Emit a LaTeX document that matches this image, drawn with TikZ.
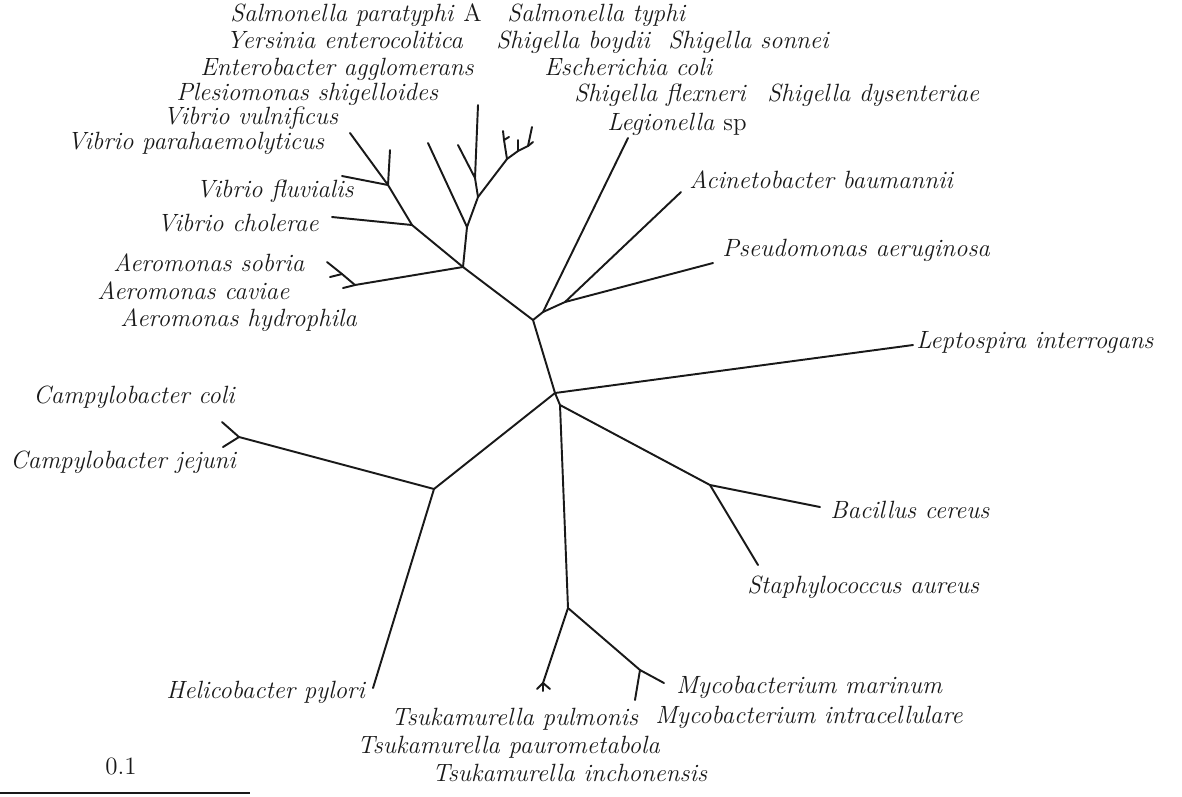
\documentclass[tikz,border=0pt]{standalone}
\usepackage{tikz}
\usetikzlibrary{positioning}
\definecolor{treeink}{RGB}{25,25,25}

\begin{document}
\begin{tikzpicture}[x=0.02cm,y=-0.02cm,font=\fontsize{14.2}{17}\selectfont,
  branch/.style={treeink,line width=1.1pt,line cap=round},
  taxon/.style={anchor=mid west,inner sep=0pt,treeink,font=\fontsize{14.2}{17}\selectfont\itshape}]
  \useasboundingbox (0,0) rectangle (1182,796);
  % ---- inner nodes of the tree ----
  \coordinate (c1) at (533,320);   \coordinate (leg) at (543,312);
  \coordinate (pse) at (565,302);  \coordinate (ent) at (463,267);
  \coordinate (aer) at (355,285);  \coordinate (aer2) at (342,274);
  \coordinate (vib) at (412,225);  \coordinate (vib2) at (388,185);
  \coordinate (g1) at (467,227);   \coordinate (g2) at (478,197);
  \coordinate (g3) at (475,178);
  \coordinate (sal1) at (507,159); \coordinate (sal2) at (518,151);
  \coordinate (sal3) at (528,146); \coordinate (sal4) at (504,140);
  \coordinate (c2) at (555,393);   \coordinate (c3) at (560,405);
  \coordinate (hel) at (434,489);  \coordinate (cam) at (239,437);
  \coordinate (bac) at (710,485);  \coordinate (myc0) at (568,608);
  \coordinate (tsu) at (543,683);  \coordinate (myc) at (640,670);
  % ---- leaf ends ----
  \coordinate (tLeg) at (628,138); \coordinate (tAci) at (681,192);
  \coordinate (tPse) at (713,263); \coordinate (tLep) at (913,345);
  \coordinate (tAsob) at (327,262); \coordinate (tAcav) at (330,277);
  \coordinate (tAhyd) at (343,288);
  \coordinate (tVcho) at (332,217); \coordinate (tVflu) at (342,176);
  \coordinate (tVpar) at (350,133); \coordinate (tVvul) at (390,150);
  \coordinate (tPle) at (428,143);  \coordinate (tEnt) at (458,145);
  \coordinate (tYer) at (478,105);
  \coordinate (tSal1) at (503,131); \coordinate (tSal2) at (509,137);
  \coordinate (tSal3) at (518,140); \coordinate (tSal4) at (532,127);
  \coordinate (tSal5) at (533,142);
  \coordinate (tHel) at (373,688); \coordinate (tCco) at (222,422);
  \coordinate (tCje) at (223,447);
  \coordinate (tBac) at (820,507); \coordinate (tSta) at (758,565);
  \coordinate (tMma) at (664,683); \coordinate (tMin) at (635,700);
  \coordinate (tTs1) at (537,689); \coordinate (tTs2) at (543,691);
  \coordinate (tTs3) at (550,689);
  % ---- branches ----
  \draw[branch] (c1) -- (leg) -- (tLeg);
  \draw[branch] (leg) -- (pse) -- (tAci);
  \draw[branch] (pse) -- (tPse);
  \draw[branch] (c1) -- (ent) -- (aer) -- (tAhyd);
  \draw[branch] (aer) -- (aer2) -- (tAsob);
  \draw[branch] (aer2) -- (tAcav);
  \draw[branch] (ent) -- (vib) -- (tVcho);
  \draw[branch] (vib) -- (vib2) -- (tVflu);
  \draw[branch] (vib2) -- (tVpar);
  \draw[branch] (vib2) -- (tVvul);
  \draw[branch] (ent) -- (g1) -- (tPle);
  \draw[branch] (g1) -- (g2) -- (g3) -- (tYer);
  \draw[branch] (g3) -- (tEnt);
  \draw[branch] (g2) -- (sal1) -- (sal2) -- (sal3) -- (tSal5);
  \draw[branch] (sal1) -- (sal4) -- (tSal1);
  \draw[branch] (sal4) -- (tSal2);
  \draw[branch] (sal2) -- (tSal3);
  \draw[branch] (sal3) -- (tSal4);
  \draw[branch] (c1) -- (c2) -- (tLep);
  \draw[branch] (c2) -- (hel) -- (tHel);
  \draw[branch] (hel) -- (cam) -- (tCco);
  \draw[branch] (cam) -- (tCje);
  \draw[branch] (c2) -- (c3) -- (bac) -- (tBac);
  \draw[branch] (bac) -- (tSta);
  \draw[branch] (c3) -- (myc0) -- (myc) -- (tMma);
  \draw[branch] (myc) -- (tMin);
  \draw[branch] (myc0) -- (tsu);
  \foreach \t in {tTs1,tTs2,tTs3}{\draw[branch] (tsu) -- (\t);}
  % ---- taxon names ----
  \node[taxon] (nSpa) at (230,18) {Salmonella paratyphi \textup{A}};
  \node[taxon] (nSty) at (507,18) {Salmonella typhi};
  \node[taxon] (nYen) at (226,45) {Yersinia enterocolitica};
  \node[taxon] (nSbo) at (496,45) {Shigella boydii};
  \node[taxon] (nSso) at (668,45) {Shigella sonnei};
  \node[taxon] (nEag) at (200,72) {Enterobacter agglomerans};
  \node[taxon] (nEco) at (544,72) {Escherichia coli};
  \node[taxon] (nPsh) at (176,97) {Plesiomonas shigelloides};
  \node[taxon] (nSfl) at (574,98) {Shigella flexneri};
  \node[taxon] (nSdy) at (767,98) {Shigella dysenteriae};
  \node[taxon] (nVvu) at (163,121) {Vibrio vulnificus};
  \node[taxon] (nLeg) at (607,127) {Legionella \textup{sp}};
  \node[taxon] (nVpa) at (67,146) {Vibrio parahaemolyticus};
  \node[taxon] (nAba) at (689,185) {Acinetobacter baumannii};
  \node[taxon] (nVfl) at (196,194) {Vibrio fluvialis};
  \node[taxon] (nVch) at (157,228) {Vibrio cholerae};
  \node[taxon] (nPae) at (722,253) {Pseudomonas aeruginosa};
  \node[taxon] (nAso) at (113,268) {Aeromonas sobria};
  \node[taxon] (nAca) at (97,296) {Aeromonas caviae};
  \node[taxon] (nAhy) at (120,323) {Aeromonas hydrophila};
  \node[taxon] (nLin) at (916,345) {Leptospira interrogans};
  \node[taxon] (nCco) at (33,400) {Campylobacter coli};
  \node[taxon] (nCje) at (10,465) {Campylobacter jejuni};
  \node[taxon] (nBce) at (830,515) {Bacillus cereus};
  \node[taxon] (nSau) at (747,590) {Staphylococcus aureus};
  \node[taxon] (nMma) at (676,690) {Mycobacterium marinum};
  \node[taxon] (nMin) at (655,720) {Mycobacterium intracellulare};
  \node[taxon] (nHpy) at (166,695) {Helicobacter pylori};
  \node[taxon] (nTpu) at (391,722) {Tsukamurella pulmonis};
  \node[taxon] (nTpa) at (357,750) {Tsukamurella paurometabola};
  \node[taxon] (nTin) at (432,778) {Tsukamurella inchonensis};
  % ---- scale bar ----
  \coordinate (sb0) at (0,793); \coordinate (sb1) at (250,793);
  \draw[treeink,line width=0.9pt] (sb0) -- (sb1);
  \node[treeink,inner sep=0pt,anchor=mid] (sbl) at (121,771) {0.1};
\end{tikzpicture}
\end{document}
